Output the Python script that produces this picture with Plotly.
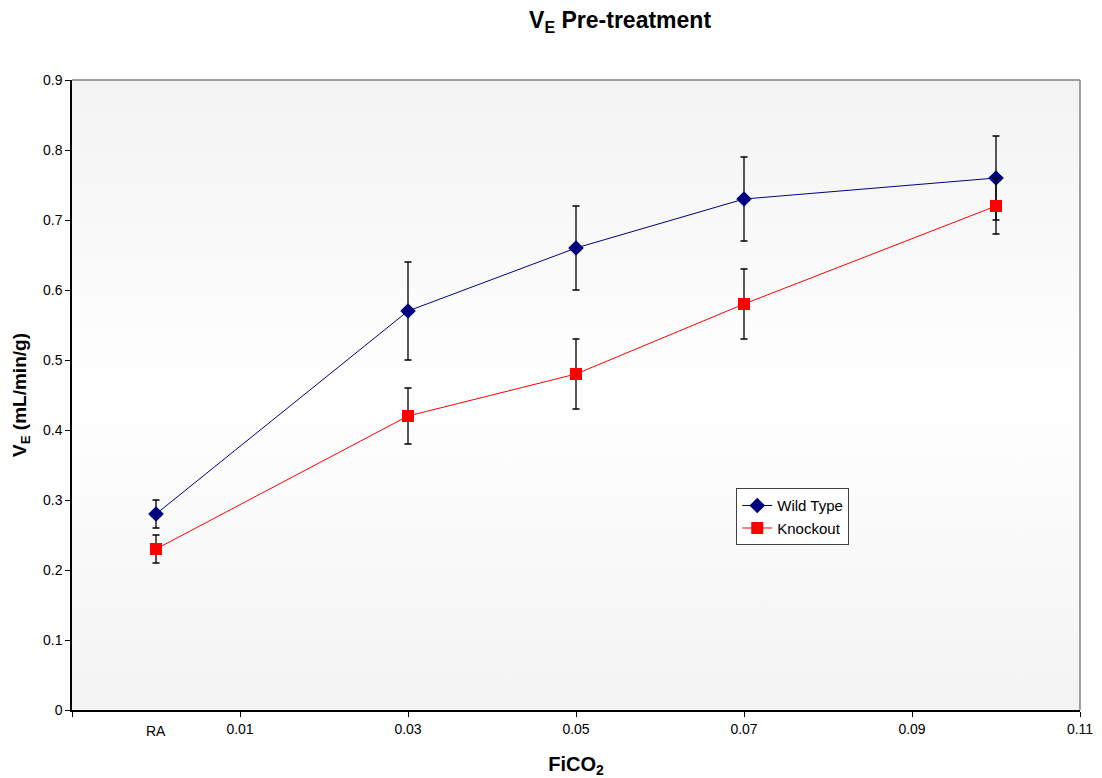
import plotly.graph_objects as go

# Data
x_vals = [0.0, 0.03, 0.05, 0.07, 0.10]
wt_vals = [0.28, 0.57, 0.66, 0.73, 0.76]
wt_err = [0.02, 0.07, 0.06, 0.06, 0.06]
ko_vals = [0.23, 0.42, 0.48, 0.58, 0.72]
ko_err = [0.02, 0.04, 0.05, 0.05, 0.04]
x_tickvals = [-0.01, 0.01, 0.03, 0.05, 0.07, 0.09, 0.11]
x_ticktext = ["", "0.01", "0.03", "0.05", "0.07", "0.09", "0.11"]
y_tickvals = [0, 0.1, 0.2, 0.3, 0.4, 0.5, 0.6, 0.7, 0.8, 0.9]
y_ticktext = ["0", "0.1", "0.2", "0.3", "0.4", "0.5", "0.6", "0.7", "0.8", "0.9"]

x_range = [-0.01, 0.11]
y_range = [0, 0.9]

FONT = "Liberation Sans, Arial, sans-serif"

fig = go.Figure()

# gradient plot-area background
fig.add_trace(go.Scatter(
    x=[x_range[0], x_range[1], x_range[1], x_range[0], x_range[0]],
    y=[y_range[0], y_range[0], y_range[1], y_range[1], y_range[0]],
    mode="none", fill="toself",
    fillgradient=dict(type="vertical",
                      colorscale=[[0, "#f3f3f3"], [0.5, "#ffffff"], [1, "#f3f3f3"]]),
    hoverinfo="skip", showlegend=False,
))

fig.add_trace(go.Scatter(
    x=x_vals, y=wt_vals, name="Wild Type", mode="lines+markers",
    line=dict(color="#000080", width=1),
    marker=dict(symbol="diamond", size=12, color="#000080"),
    error_y=dict(type="data", array=wt_err, color="black", thickness=1.3, width=3.5),
))
fig.add_trace(go.Scatter(
    x=x_vals, y=ko_vals, name="Knockout", mode="lines+markers",
    line=dict(color="#ff0000", width=1),
    marker=dict(symbol="square", size=12, color="#ff0000"),
    error_y=dict(type="data", array=ko_err, color="black", thickness=1.3, width=3.5),
))

fig.update_layout(
    width=1102, height=778,
    margin=dict(l=64, r=30, t=72, b=76),
    paper_bgcolor="white", plot_bgcolor="white",
    font=dict(family=FONT, size=14, color="black"),
    title=dict(text="<b>V<sub>E</sub> Pre-treatment</b>", x=0.5554, xanchor="center",
               y=0.9846, yanchor="middle", font=dict(size=23, family=FONT)),
    xaxis=dict(range=x_range, tickvals=x_tickvals, ticktext=x_ticktext,
               showgrid=False, zeroline=False, showline=True, linecolor="black", linewidth=1.5,
               ticks="outside", ticklen=5, tickcolor="black",
               title=dict(text="<b>FiCO<sub>2</sub></b>", font=dict(size=20), standoff=21)),
    yaxis=dict(range=y_range, tickvals=y_tickvals, ticktext=y_ticktext,
               showgrid=False, zeroline=False, showline=True, linecolor="black", linewidth=1.5,
               ticks="outside", ticklen=5, tickcolor="black",
               title=dict(text="<b>V<sub>E</sub> (mL/min/g)</b>", font=dict(size=19), standoff=11)),
    legend=dict(x=0.659, y=0.352, xanchor="left", yanchor="top",
                bgcolor="white", bordercolor="#404040", borderwidth=1,
                font=dict(size=15), itemwidth=30, tracegroupgap=0),
    shapes=[
        dict(type="line", xref="paper", yref="paper", x0=0, x1=1, y0=1, y1=1,
             line=dict(color="#808080", width=1.5)),
        dict(type="line", xref="paper", yref="paper", x0=1, x1=1, y0=0, y1=1,
             line=dict(color="#808080", width=1.5)),
    ],
    annotations=[
        dict(text="RA", x=0, y=0, xref="x", yref="y", yshift=-21, showarrow=False,
             font=dict(size=14)),
    ],
)

fig.write_html("out.html")
